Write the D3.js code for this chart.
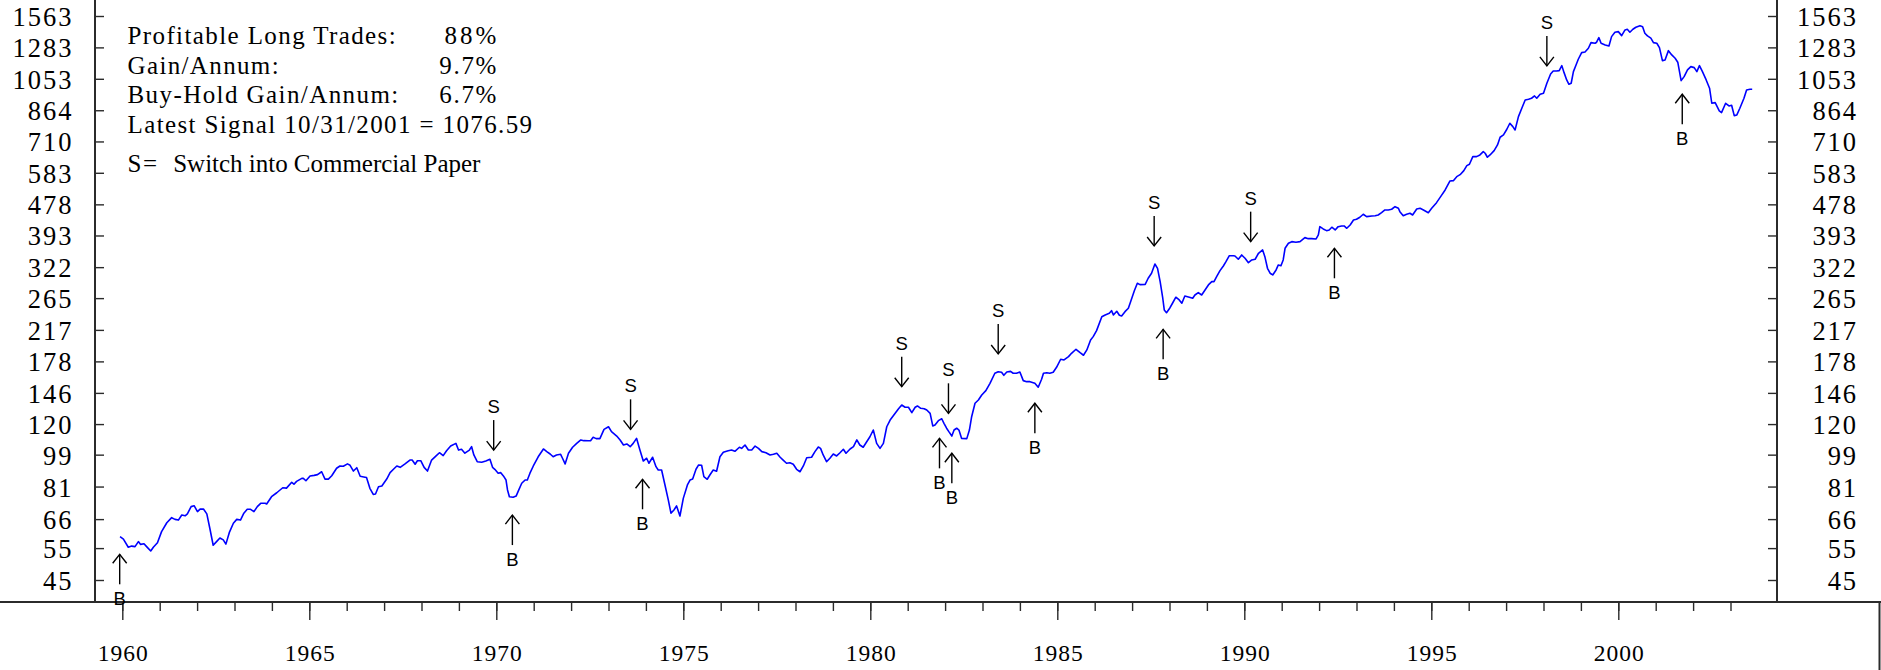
<!DOCTYPE html>
<html><head><meta charset="utf-8">
<script src="https://cdn.jsdelivr.net/npm/d3@7"></script>
<style>html,body{margin:0;padding:0;background:#fff;overflow:hidden}</style>
</head><body><svg id="c" width="1881" height="670"></svg>
<script>
// ---- data ----
const dates = [
1959.94,1960.03,1960.16,1960.25,1960.34,1960.43,1960.49,1960.58,1960.65,1960.76,1960.83,1960.94,
1961.05,1961.19,1961.32,1961.41,1961.50,1961.59,1961.68,1961.74,1961.84,1961.92,
1962.01,1962.08,1962.17,1962.26,1962.34,1962.43,1962.52,1962.61,1962.70,1962.77,1962.86,1962.97,
1963.06,1963.16,1963.25,1963.34,1963.43,1963.52,1963.61,1963.70,1963.82,1963.86,1963.99,
1964.13,1964.29,1964.39,1964.53,1964.59,1964.66,1964.80,1964.84,1964.91,
1965.02,1965.13,1965.22,1965.33,1965.42,1965.51,1965.60,1965.73,1965.82,1965.91,
1966.02,1966.09,1966.18,1966.27,1966.36,1966.49,1966.53,1966.62,1966.71,1966.77,1966.85,1966.94,
1967.07,1967.16,1967.25,1967.34,1967.43,1967.56,1967.69,1967.75,1967.83,1967.89,1967.98,
1968.07,1968.16,1968.27,1968.39,1968.48,1968.58,1968.67,1968.78,1968.92,1968.99,
1969.07,1969.16,1969.28,1969.34,1969.40,1969.49,1969.61,1969.72,1969.83,1969.90,1969.96,
1970.05,1970.12,1970.19,1970.26,1970.30,1970.35,1970.45,1970.53,1970.59,1970.68,1970.77,1970.83,1970.90,1970.99,
1971.12,1971.26,1971.35,1971.44,1971.52,1971.61,1971.72,1971.77,1971.84,1971.93,
1972.04,1972.15,1972.26,1972.34,1972.46,1972.52,1972.59,1972.67,1972.77,1972.88,
1973.00,1973.08,1973.22,1973.31,1973.40,1973.49,1973.58,1973.66,1973.75,1973.84,1973.93,
1974.02,1974.08,1974.18,1974.27,1974.33,1974.42,1974.51,1974.60,1974.67,1974.75,1974.82,1974.91,
1975.00,1975.11,1975.18,1975.25,1975.34,1975.41,1975.49,1975.55,1975.64,1975.71,1975.80,1975.89,1975.98,
1976.07,1976.20,1976.29,1976.38,1976.50,1976.56,1976.65,1976.74,1976.83,1976.92,
1977.01,1977.10,1977.21,1977.32,1977.41,1977.50,1977.59,1977.67,1977.76,1977.85,1977.94,
1978.03,1978.12,1978.21,1978.30,1978.43,1978.52,1978.61,1978.67,1978.74,1978.83,1978.92,
1979.01,1979.10,1979.19,1979.28,1979.35,1979.46,1979.55,1979.64,1979.72,1979.81,1979.90,1979.99,
1980.08,1980.17,1980.26,1980.35,1980.44,1980.53,1980.63,1980.75,1980.84,1980.93,
1981.02,1981.11,1981.20,1981.26,1981.35,1981.44,1981.51,1981.60,1981.67,1981.73,1981.82,1981.91,1981.97,
1982.04,1982.10,1982.18,1982.24,1982.31,1982.37,1982.44,1982.58,1982.65,1982.71,1982.80,1982.89,1982.98,
1983.09,1983.20,1983.33,1983.42,1983.51,1983.57,1983.65,1983.75,1983.82,1983.91,
1984.00,1984.09,1984.18,1984.27,1984.40,1984.49,1984.58,1984.63,1984.72,1984.80,1984.89,1984.98,
1985.09,1985.18,1985.30,1985.38,1985.50,1985.61,1985.70,1985.79,1985.89,1985.96,
1986.05,1986.19,1986.28,1986.39,1986.45,1986.50,1986.59,1986.66,1986.72,1986.81,1986.90,1986.96,
1987.06,1987.14,1987.21,1987.35,1987.43,1987.52,1987.61,1987.68,1987.75,1987.82,1987.86,1987.92,
1988.01,1988.08,1988.17,1988.26,1988.33,1988.41,1988.53,1988.62,1988.68,1988.77,1988.86,1988.95,
1989.04,1989.13,1989.19,1989.26,1989.35,1989.44,1989.51,1989.60,1989.71,1989.75,1989.84,1989.93,
1990.02,1990.11,1990.20,1990.29,1990.38,1990.49,1990.55,1990.62,1990.69,1990.76,1990.85,1990.91,1990.98,
1991.04,1991.09,1991.18,1991.27,1991.38,1991.49,1991.62,1991.71,1991.80,1991.92,1991.98,
1992.02,1992.11,1992.20,1992.27,1992.34,1992.43,1992.51,1992.60,1992.67,1992.74,1992.83,1992.92,
1993.00,1993.09,1993.18,1993.27,1993.41,1993.50,1993.58,1993.67,1993.76,1993.85,1993.94,
1994.03,1994.12,1994.16,1994.25,1994.34,1994.43,1994.50,1994.61,1994.70,1994.79,1994.92,
1995.01,1995.14,1995.25,1995.37,1995.50,1995.59,1995.68,1995.77,1995.87,1995.95,
1996.02,1996.11,1996.21,1996.30,1996.39,1996.44,1996.50,1996.57,1996.68,1996.77,1996.84,1996.93,
1997.02,1997.10,1997.18,1997.24,1997.33,1997.42,1997.51,1997.60,1997.68,1997.76,1997.82,1997.91,
1998.00,1998.09,1998.19,1998.26,1998.35,1998.42,1998.49,1998.55,1998.62,1998.68,1998.74,1998.80,1998.87,1998.93,
1999.02,1999.11,1999.20,1999.27,1999.38,1999.42,1999.48,1999.54,1999.65,1999.75,1999.82,1999.91,
2000.00,2000.09,2000.18,2000.24,2000.31,2000.39,2000.47,2000.58,2000.65,2000.71,2000.78,2000.87,2000.94,
2001.03,2001.10,2001.18,2001.25,2001.34,2001.43,2001.52,2001.59,2001.68,2001.76,2001.85,2001.94,
2002.03,2002.10,2002.17,2002.25,2002.35,2002.44,2002.50,2002.59,2002.70,2002.76,2002.87,2002.96,
2003.03,2003.10,2003.17,2003.25,2003.36,2003.43,2003.52,2003.58
];
const spx = [
59.1,58.2,55.3,55.7,55.5,57.3,56.3,56.5,55.5,54.0,55.3,56.9,
61.0,64.5,66.6,65.9,65.6,67.7,67.4,68.2,71.4,71.8,
69.2,70.3,70.3,68.2,62.3,56.0,57.3,58.6,57.9,56.4,60.6,64.3,
65.9,65.6,68.5,70.2,70.2,69.2,71.4,72.9,72.9,72.6,76.0,
77.9,80.4,80.2,83.2,82.2,83.7,85.3,85.3,84.0,
86.6,86.9,87.3,88.9,84.9,84.9,86.7,90.9,92.2,92.0,
93.4,92.6,89.3,91.2,86.4,85.9,85.7,80.1,77.1,77.3,80.9,81.3,
84.9,88.4,90.3,92.2,91.4,93.4,95.7,95.7,93.2,95.3,95.3,
91.4,89.3,95.7,98.2,100.2,98.4,101.5,104.5,106.3,101.9,
102.4,99.9,101.9,104.1,98.8,94.7,94.4,95.1,96.2,91.4,90.3,
88.1,88.4,86.6,84.4,79.3,76.0,75.7,76.3,78.8,82.7,84.4,84.4,88.1,92.2,
97.7,102.6,100.9,99.4,97.7,98.8,99.2,96.8,93.4,99.9,
103.7,106.3,108.6,108.1,108.0,108.0,110.4,109.5,109.5,116.1,
118.0,114.4,111.3,108.6,105.2,105.9,104.1,106.3,109.7,101.9,95.1,
96.8,93.8,97.4,91.8,89.9,89.9,81.8,74.4,68.5,69.9,71.7,67.3,
75.2,81.8,84.4,84.9,90.3,92.8,92.6,86.2,84.8,87.1,89.9,89.2,97.7,
100.5,101.5,101.9,101.1,103.7,103.0,105.2,101.9,101.9,104.5,
103.0,100.9,100.2,98.8,99.2,99.9,97.4,95.7,93.8,94.1,93.2,
90.3,88.9,92.2,97.1,97.4,100.9,103.9,103.0,98.8,94.7,96.8,
99.4,98.2,100.2,102.4,99.9,102.6,104.1,108.6,105.2,103.7,107.2,110.8,
115.6,106.3,103.0,106.3,118.0,123.1,127.1,132.0,135.3,133.4,
133.4,128.9,133.4,134.5,132.5,132.2,131.1,128.4,118.6,119.3,122.6,124.1,120.6,
116.9,114.4,111.3,115.6,116.9,115.6,109.7,109.5,115.6,125.7,136.8,139.6,144.1,
148.1,155.1,165.2,166.8,166.2,163.1,166.5,167.2,165.2,165.2,
166.5,157.7,156.7,156.7,155.1,151.3,159.1,165.2,165.8,165.2,166.2,171.5,
180.4,179.6,183.4,187.3,192.1,188.0,185.0,191.3,203.7,208.0,
216.0,235.8,238.4,240.9,244.9,238.4,244.0,237.9,236.9,243.4,248.6,259.2,
277.7,291.0,288.4,288.9,300.3,309.9,328.5,319.7,293.9,264.8,246.0,241.8,
249.1,256.6,266.5,262.0,256.6,268.6,266.5,264.8,270.3,274.3,270.3,279.0,
287.9,293.9,293.9,303.3,315.0,324.4,333.3,346.1,346.1,345.5,338.4,347.7,
340.5,331.2,336.9,338.4,351.4,358.8,344.0,319.7,309.9,306.6,316.4,326.5,325.0,
336.9,362.6,374.2,378.0,376.6,378.0,387.7,385.2,385.2,384.5,394.3,
415.4,409.5,405.1,406.9,413.9,406.9,415.4,417.2,417.2,411.2,419.9,433.3,
435.2,440.7,449.1,442.4,444.3,445.0,447.1,453.6,461.4,461.4,463.5,
471.1,466.4,456.5,445.0,449.1,451.9,447.1,464.4,466.4,461.4,453.6,
466.4,483.1,501.7,523.3,553.8,554.8,569.0,576.1,590.8,609.7,
615.1,645.2,645.2,652.2,665.8,659.2,642.8,652.2,670.1,694.5,729.0,739.6,
766.7,796.1,779.4,763.3,830.0,874.9,921.8,925.9,931.7,945.3,931.7,955.4,
961.5,1023.9,1085.6,1106.3,1106.3,1108.4,1143.9,1094.5,1045.4,1017.4,1023.9,1101.4,1148.9,1190.8,
1241.3,1246.7,1276.1,1321.9,1316.8,1325.3,1364.1,1316.8,1302.9,1294.7,1372.8,1411.3,
1416.6,1381.6,1431.9,1438.0,1411.3,1438.0,1456.3,1471.0,1461.8,1402.4,1379.0,1359.2,1321.9,
1316.8,1281.0,1180.4,1185.6,1257.0,1223.6,1198.4,1168.7,1040.9,1067.4,1113.3,1136.7,
1129.5,1101.4,1143.9,1101.4,1045.4,992.3,902.8,906.3,860.2,851.1,902.8,887.7,
891.6,835.2,838.8,874.9,931.7,981.7,986.0,986.0
];
const yTickLabels = [45,55,66,81,99,120,146,178,217,265,322,393,478,583,710,864,1053,1283,1563];
const majorYears = [1960,1965,1970,1975,1980,1985,1990,1995,2000];
const minorYears = [1960,1961,1962,1963,1964,1965,1966,1967,1968,1969,1970,1971,1972,1973,1974,1975,1976,1977,1978,1979,
  1980,1981,1982,1983,1984,1985,1986,1987,1988,1989,1990,1991,1992,1993,1994,1995,1996,1997,1998,1999,2000,2001,2002,2003];
const signalType = ["B","S","B","S","B","S","B","S","B","S","B","S","B","S","B","S","B"];
const signalDate = [1959.93,1969.93,1970.43,1973.59,1973.91,1980.84,1981.85,1982.09,1982.18,1983.42,1984.40,1987.59,1987.83,1990.17,1992.41,1998.09,2001.71];
const signalTip  = [52.9,101.9,67.7,116.1,84.8,151.8,109.7,128.4,99.9,186.5,136.8,367.9,217.8,378.0,362.6,1141.7,955.4];
const statLabels = ["Profitable Long Trades:","Gain/Annum:","Buy-Hold Gain/Annum:"];
const statValues = ["88%","9.7%","6.7%"];
const latestSignal = "Latest Signal 10/31/2001 = 1076.59";
const legendKey = "S =";
const legendText = "Switch into Commercial Paper";

// ---- layout ----
const W = 1881, H = 670;
const axisY = 602, leftX = 95, rightX = 1777;
const serif = "'Liberation Serif','Times New Roman',Times,serif";
const sans = "'Liberation Sans',Arial,Helvetica,sans-serif";
const axisColor = "#2b2b2b";

const svg = d3.select("#c");
const x = d3.scaleLinear().domain([1960, 2003]).range([122.3, 1730.5]);
const y = d3.scaleLog().domain([45, 1563]).range([580, 16]);

// frame lines
svg.append("line").attr("x1",0).attr("x2",W).attr("y1",axisY).attr("y2",axisY)
  .attr("stroke",axisColor).attr("stroke-width",2);
svg.append("line").attr("x1",leftX).attr("x2",leftX).attr("y1",0).attr("y2",axisY)
  .attr("stroke",axisColor).attr("stroke-width",2);
svg.append("line").attr("x1",rightX).attr("x2",rightX).attr("y1",0).attr("y2",axisY)
  .attr("stroke",axisColor).attr("stroke-width",2);
svg.append("line").attr("x1",1879.5).attr("x2",1879.5).attr("y1",axisY).attr("y2",H)
  .attr("stroke",axisColor).attr("stroke-width",2);

function styleAxis(g){
  g.select(".domain").remove();
  g.selectAll(".tick line").attr("stroke",axisColor).attr("stroke-width",1.4);
}

// x axis minor
svg.append("g").attr("transform",`translate(0,${axisY})`)
  .call(d3.axisBottom(x).tickValues(minorYears).tickSize(9).tickFormat(""))
  .call(styleAxis);
// x axis major
const gxM = svg.append("g").attr("transform",`translate(0,${axisY})`)
  .call(d3.axisBottom(x).tickValues(majorYears).tickSize(18).tickFormat(d3.format("d")))
  .call(styleAxis);
gxM.selectAll(".tick text").attr("y",58.5).attr("dy",null)
  .attr("font-family",serif).attr("font-size",23.5).attr("fill","#000")
  .attr("textLength",50).attr("lengthAdjust","spacing").attr("x",-25).attr("text-anchor","start");

function yLabels(g, xPos){
  g.selectAll(".tick text")
    .attr("x",d => xPos - (String(d).length*15.3 - 2.3))
    .attr("y",9.5).attr("dy",null).attr("text-anchor","start")
    .attr("font-family",serif).attr("font-size",26.5).attr("fill","#000")
    .attr("textLength",d => String(d).length*15.3 - 2.3).attr("lengthAdjust","spacing");
}
// left y axis
svg.append("g").attr("transform",`translate(${leftX},0)`)
  .call(d3.axisLeft(y).tickValues(yTickLabels).tickSizeInner(-9).tickSizeOuter(0).tickFormat(d3.format("d")))
  .call(styleAxis).call(g => yLabels(g, -23.6));
// right y axis
svg.append("g").attr("transform",`translate(${rightX},0)`)
  .call(d3.axisRight(y).tickValues(yTickLabels).tickSizeInner(-9).tickSizeOuter(0).tickFormat(d3.format("d")))
  .call(styleAxis).call(g => yLabels(g, 79));

// price line
const pts = dates.map((d,i)=>[d, spx[i]]);
svg.append("path").datum(pts)
  .attr("fill","none").attr("stroke","#0000ff").attr("stroke-width",1.6)
  .attr("stroke-linejoin","round")
  .attr("d", d3.line().x(p=>x(p[0])).y(p=>y(p[1])));

// signals
const sig = svg.append("g").attr("stroke","#000").attr("stroke-width",1.4).attr("fill","none");
signalType.forEach((t,i)=>{
  const sx = x(signalDate[i]), ty = y(signalTip[i]);
  const dir = t === "B" ? 1 : -1;  // B: arrow below pointing up; S: arrow above pointing down
  sig.append("line").attr("x1",sx).attr("x2",sx).attr("y1",ty).attr("y2",ty + dir*30);
  sig.append("path").attr("d",`M${sx-7},${ty+dir*9}L${sx},${ty}L${sx+7},${ty+dir*9}`);
  svg.append("text").attr("x",sx).attr("y", t === "B" ? ty + 50.5 : ty - 37)
    .attr("text-anchor","middle").attr("font-family",sans).attr("font-size",18.5)
    .attr("fill","#000").text(t);
});

// stats text block
const tb = svg.append("g").attr("font-family",serif).attr("font-size",25).attr("fill","#000");
const labelW = [268.2,151.1,270.7];
const valW = [51.8,57.1,57.1];
const baseY = [44,73.5,103];
statLabels.forEach((s,i)=>{
  tb.append("text").attr("x",127.5).attr("y",baseY[i]).attr("textLength",labelW[i])
    .attr("lengthAdjust","spacing").text(s);
  tb.append("text").attr("x",496.4 - valW[i]).attr("y",baseY[i]).attr("textLength",valW[i])
    .attr("lengthAdjust","spacing").text(statValues[i]);
});
tb.append("text").attr("x",127.5).attr("y",133).attr("textLength",404.5)
  .attr("lengthAdjust","spacing").text(latestSignal);
tb.append("text").attr("x",127.5).attr("y",171.5).attr("textLength",29.6)
  .attr("lengthAdjust","spacing").text(legendKey);
tb.append("text").attr("x",173.2).attr("y",171.5).attr("textLength",307.2)
  .attr("lengthAdjust","spacing").text(legendText);
</script>
</body></html>
